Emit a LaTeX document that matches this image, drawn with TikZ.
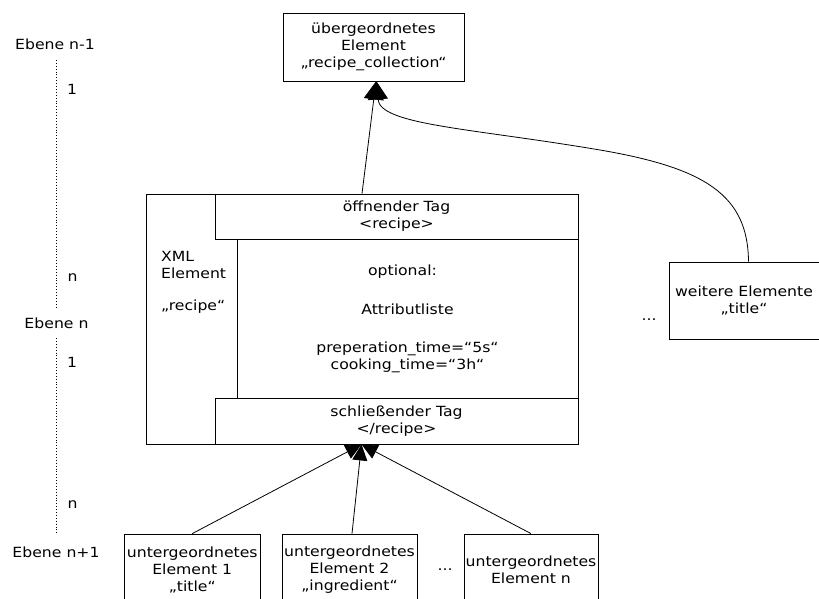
\documentclass[tikz,border=0pt]{standalone}
\usepackage{fontspec}
\setmainfont{DejaVu Sans}[FakeStretch=1.12]
\usetikzlibrary{arrows.meta}
\begin{document}
\begin{tikzpicture}[x=1pt,y=-1pt,
  every node/.style={font=\fontsize{14}{17}\selectfont, inner sep=0pt, align=center},
  box/.style={draw, line width=0.8pt},
  arr/.style={line width=0.8pt, -{Triangle[length=18pt,width=20pt]}},
  childarr/.style={line width=0.8pt, -{Triangle[length=16pt,width=15pt]}},
  levelaxis/.style={line width=0.8pt, dash pattern=on 0.9pt off 2pt}
]
\useasboundingbox (0,0) rectangle (819,599);
\clip (0,0) rectangle (819,599);

% level labels and the dotted axis
\node (lvlA) at (55,44) {Ebene n-1};
\node (lvlB) at (56.5,323) {Ebene n};
\node (lvlC) at (56,552) {Ebene n+1};
\node (cardA1) at (72,89) {1};
\node (cardAn) at (72.5,278) {n};
\node (cardB1) at (72,362) {1};
\node (cardBn) at (72.5,505) {n};
\coordinate (axA1) at (56.5,60);
\coordinate (axA2) at (56.5,307);
\coordinate (axB1) at (56.5,338);
\coordinate (axB2) at (56.5,533);
\draw[levelaxis] (axA1) -- (axA2);
\draw[levelaxis] (axB1) -- (axB2);

% parent element
\node[box, minimum width=181pt, minimum height=68pt] (parent) at (373.5,47)
  {übergeordnetes\\Element\\„recipe\_collection“};

% the XML element with its tags and attributes
\node[box, minimum width=432pt, minimum height=250pt] (xml) at (362,319) {};
\node[box, minimum width=363pt, minimum height=45pt] (open) at (396.5,216.5)
  {öffnender Tag\\<recipe>};
\node[box, minimum width=341pt, minimum height=159pt] (attrs) at (407.5,318.5)
  {optional:\hspace*{10pt}\\[22pt]Attributliste\\[21pt]preperation\_time=“5s“\\cooking\_time=“3h“};
\node[box, minimum width=363pt, minimum height=46pt] (close) at (396.5,421)
  {schließender Tag\\</recipe>};
\node[anchor=west, align=left] (xmllabel) at (161,282.5)
  {XML\\Element\\[15pt]„recipe“};

% sibling elements
\node[box, minimum width=150pt, minimum height=77pt] (more) at (744,300.5)
  {weitere Elemente\\„title“};
\node (dotsA) at (649,320) {...};

% child elements
\node[box, minimum width=136.5pt, minimum height=72pt] (sub1) at (192.25,570)
  {untergeordnetes\\Element 1\\„title“};
\node[box, minimum width=135pt, minimum height=72pt] (sub2) at (349.5,570)
  {untergeordnetes\\Element 2\\„ingredient“};
\node (dotsB) at (445,570) {...};
\node[box, minimum width=134pt, minimum height=72pt] (subn) at (531,570)
  {untergeordnetes\\Element n};

% connectors
\draw[arr] (xml.north) -- ([xshift=2.5pt]parent.south);
\draw[arr] ([xshift=4.5pt]more.north) .. controls (748,195) and (705,168) .. (600,150)
  .. controls (470,128) and (380,125) .. ([xshift=3pt]parent.south);
\draw[childarr] (sub1.north) -- ([xshift=-35pt]close.south);
\draw[childarr] ([xshift=2.5pt]sub2.north) -- ([xshift=-35pt]close.south);
\draw[childarr] (subn.north) -- ([xshift=-35pt]close.south);
\end{tikzpicture}
\end{document}
